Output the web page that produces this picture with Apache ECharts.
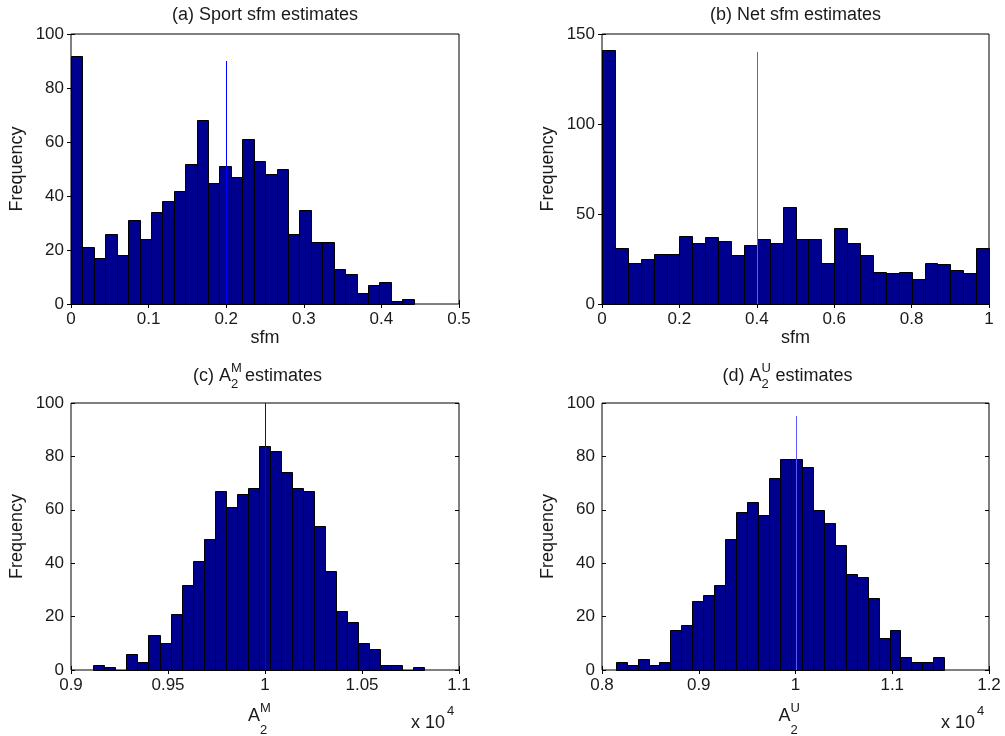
<!DOCTYPE html>
<html>
<head>
<meta charset="utf-8">
<title>sfm estimates</title>
<script src="https://cdn.jsdelivr.net/npm/echarts@6/dist/echarts.min.js"></script>
<style>
html, body { margin: 0; padding: 0; background: #fff; }
#main { width: 1005px; height: 736px; }
</style>
</head>
<body>
<div id="main"></div>
<script>
// histogram counts, 30 bins per panel
var sportCounts = [92, 21, 17, 26, 18, 31, 24, 34, 38, 42, 52, 68, 45, 51, 47, 61, 53, 48, 50, 26, 35, 23, 23, 13, 11, 4, 7, 8, 1, 2];
var netCounts = [141, 31, 23, 25, 28, 28, 38, 34, 37, 35, 27, 33, 36, 34, 54, 36, 36, 23, 42, 34, 27, 18, 17, 18, 14, 23, 22, 19, 17, 31];
var a2mCounts = [2, 1, 0, 6, 3, 13, 10, 21, 32, 41, 49, 67, 61, 66, 68, 84, 82, 74, 68, 67, 54, 37, 22, 18, 10, 8, 2, 2, 0, 1];
var a2uCounts = [3, 2, 4, 2, 3, 15, 17, 26, 28, 32, 49, 59, 63, 58, 72, 79, 79, 76, 60, 55, 47, 36, 35, 27, 12, 15, 5, 3, 3, 5];

// range spanned by the bins (A2 panels in units of 10^4)
var sportRange = [0, 0.4416];
var netRange = [0, 1];
var a2mRange = [0.9115, 1.0821];
var a2uRange = [0.8141, 1.1538];

// true value marker: [x, height]
var sportTrue = [0.2, 90];
var netTrue = [0.4, 140];
var a2mTrue = [1, 100];
var a2uTrue = [1, 95];

// axes: [min, max, step]
var sportX = [0, 0.5, 0.1], sportY = [0, 100, 20];
var netX = [0, 1, 0.2], netY = [0, 150, 50];
var a2mX = [0.9, 1.1, 0.05], a2mY = [0, 100, 20];
var a2uX = [0.8, 1.2, 0.1], a2uY = [0, 100, 20];

var FONT = '"Liberation Sans", Arial, Helvetica, sans-serif';
var INK = '#1a1a1a';
var BARFILL = '#00008f';

var grids = [
    {left: 71, top: 34, width: 388, height: 270},
    {left: 602, top: 34, width: 387, height: 270},
    {left: 71, top: 403, width: 388, height: 267},
    {left: 602, top: 403, width: 387, height: 267}
];

var panels = [
    {counts: sportCounts, range: sportRange, mark: sportTrue, x: sportX, y: sportY, markColor: '#0000ff', xName: 'sfm'},
    {counts: netCounts, range: netRange, mark: netTrue, x: netX, y: netY, markColor: '#5a5aff', xName: 'sfm'},
    {counts: a2mCounts, range: a2mRange, mark: a2mTrue, x: a2mX, y: a2mY, markColor: '#0000ff', xName: ''},
    {counts: a2uCounts, range: a2uRange, mark: a2uTrue, x: a2uX, y: a2uY, markColor: '#5a5aff', xName: ''}
];

function binsOf(counts, range) {
    var w = (range[1] - range[0]) / counts.length;
    return counts.map(function (c, i) {
        return [range[0] + i * w, range[0] + (i + 1) * w, c];
    });
}

function snap(v) {
    return Math.round(v) + 0.5;
}

function renderBin(params, api) {
    var p0 = api.coord([api.value(0), 0]);
    var p1 = api.coord([api.value(1), api.value(2)]);
    var x0 = snap(p0[0]), x1 = snap(p1[0]);
    var y0 = snap(p0[1]), y1 = snap(p1[1]);
    return {
        type: 'rect',
        shape: {x: x0, y: y1, width: x1 - x0, height: y0 - y1},
        style: {fill: BARFILL, stroke: '#000', lineWidth: 1}
    };
}

// true value drawn as a 1px filled strip so it stays crisp
function markRenderer(color) {
    return function (params, api) {
        var p0 = api.coord([api.value(0), 0]);
        var p1 = api.coord([api.value(0), api.value(1)]);
        var x = Math.round(p0[0]);
        return {
            type: 'rect',
            shape: {x: x, y: Math.round(p1[1]), width: 1, height: Math.round(p0[1]) - Math.round(p1[1])},
            style: {fill: color, stroke: null}
        };
    };
}

function axisPair(type, idx, p) {
    var lim = type === 'x' ? p.x : p.y;
    var base = {
        type: 'value', gridIndex: idx,
        min: lim[0], max: lim[1], interval: lim[2],
        axisLine: {show: false},
        axisTick: {show: true, inside: true, length: 4, lineStyle: {color: '#000'}},
        splitLine: {show: false}
    };
    var main = Object.assign({}, base, {
        position: type === 'x' ? 'bottom' : 'left',
        axisLabel: {margin: 7, color: INK, fontSize: 17, fontFamily: FONT},
        nameLocation: 'middle',
        nameTextStyle: {color: INK, fontSize: 18, fontFamily: FONT}
    });
    if (type === 'x') {
        main.name = p.xName;
        main.nameGap = 24;
    } else {
        main.name = 'Frequency';
        main.nameGap = 45;
    }
    var mirror = Object.assign({}, base, {
        position: type === 'x' ? 'top' : 'right',
        axisLabel: {show: false}
    });
    return [main, mirror];
}

var xAxes = [], yAxes = [], series = [];
panels.forEach(function (p, i) {
    xAxes = xAxes.concat(axisPair('x', i, p));
    yAxes = yAxes.concat(axisPair('y', i, p));
    series.push({
        type: 'custom',
        xAxisIndex: 2 * i, yAxisIndex: 2 * i,
        renderItem: renderBin,
        encode: {x: [0, 1], y: 2},
        data: binsOf(p.counts, p.range),
        silent: true
    });
    series.push({
        type: 'custom',
        xAxisIndex: 2 * i, yAxisIndex: 2 * i,
        renderItem: markRenderer(p.markColor),
        encode: {x: 0, y: 1},
        itemStyle: {color: p.markColor},
        data: [p.mark],
        z: 5,
        silent: true
    });
});

function txt(str, x, y, size, align) {
    return {
        type: 'text', x: x, y: y, silent: true,
        style: {text: str, fill: INK, font: size + 'px ' + FONT, align: align || 'left', verticalAlign: 'middle'}
    };
}

var graphics = [];
var titles = ['(a) Sport sfm estimates', '(b) Net sfm estimates'];
[0, 1].forEach(function (i) {
    var g = grids[i];
    graphics.push(txt(titles[i], g.left + g.width / 2, g.top - 19, 18, 'center'));
});
var supers = ['M', 'U'];
var tags = ['(c) A', '(d) A'];
[2, 3].forEach(function (i, k) {
    var g = grids[i];
    var cx = g.left + g.width / 2;
    var r = g.left + g.width;
    var b = g.top + g.height;
    // title with stacked sub/superscript
    graphics.push(txt(tags[k], cx - 34, g.top - 27, 18, 'right'));
    graphics.push(txt(supers[k], cx - 34, g.top - 35, 13));
    graphics.push(txt('2', cx - 34, g.top - 19, 13));
    graphics.push(txt('estimates', cx - 20, g.top - 27, 18));
    // x axis name
    graphics.push(txt('A', cx - 5, b + 46, 18, 'right'));
    graphics.push(txt(supers[k], cx - 5, b + 38, 13));
    graphics.push(txt('2', cx - 5, b + 60, 13));
    // exponent
    graphics.push(txt('x 10', r - 14, b + 53, 18, 'right'));
    graphics.push(txt('4', r - 12, b + 41, 13));
});

var chart = echarts.init(document.getElementById('main'));
chart.setOption({
    animation: false,
    backgroundColor: '#fff',
    grid: grids.map(function (g) {
        return Object.assign({show: true, borderColor: '#000', borderWidth: 1, backgroundColor: '#fff'}, g);
    }),
    xAxis: xAxes,
    yAxis: yAxes,
    series: series,
    graphic: graphics
});
</script>
</body>
</html>
